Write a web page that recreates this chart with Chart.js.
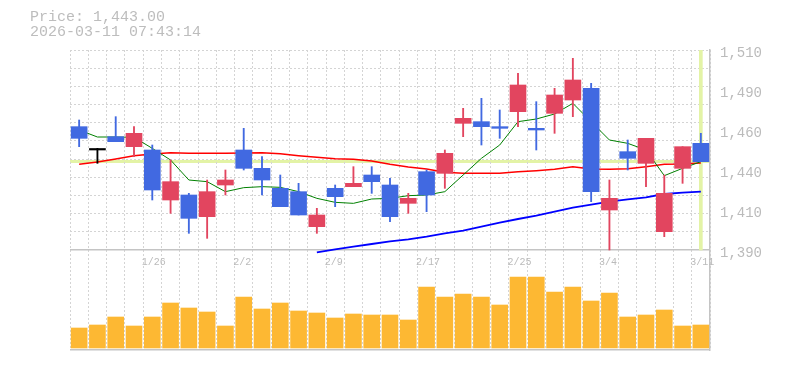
<!DOCTYPE html>
<html><head><meta charset="utf-8">
<script src="https://cdn.jsdelivr.net/npm/chart.js@4/dist/chart.umd.min.js"></script>
<style>
html,body{margin:0;padding:0;background:#fff;}
#wrap{position:relative;width:785px;height:370px;overflow:hidden;}
canvas{position:absolute;left:0;top:0;}
.hdr{position:absolute;left:30px;font-family:"Liberation Mono",monospace;font-size:15px;line-height:18px;color:#bdbdbd;white-space:pre;}
</style></head>
<body><div id="wrap"><canvas id="c" width="785" height="370"></canvas>
<div class="hdr" id="h1" style="top:9px"></div><div class="hdr" id="h2" style="top:24px"></div></div>
<script>
const dates = ["1/20","1/21","1/22","1/23","1/26","1/27","1/28","1/29","1/30","2/2","2/3","2/4","2/5","2/6","2/9","2/10","2/12","2/13","2/16","2/17","2/18","2/19","2/20","2/24","2/25","2/26","2/27","3/2","3/3","3/4","3/5","3/6","3/9","3/10","3/11"];
const tickDates = ["1/26","2/2","2/9","2/17","2/25","3/4","3/11"];
const opens  = [1464,1450,1458,1452,1450,1420,1423,1410,1429,1450,1439,1427,1425,1404,1427,1428,1435,1429,1418,1437,1436,1466,1467,1464,1473,1463,1472,1480,1487,1414,1449,1442,1401,1439,1454];
const highs  = [1468,1451,1470,1464,1453,1444,1424,1432,1438,1463,1446,1435,1430,1415,1429,1440,1440,1433,1424,1438,1450,1475,1481,1474,1496,1479,1487,1505,1490,1432,1456,1457,1435,1452,1460];
const lows   = [1452,1442,1455,1446,1420,1412,1400,1397,1423,1438,1423,1416,1411,1400,1416,1428,1424,1407,1412,1413,1427,1458,1453,1457,1464,1450,1460,1470,1419,1390,1438,1428,1398,1430,1443];
const closes = [1457,1450,1455,1460,1426,1431,1409,1425,1432,1439,1432,1416,1411,1411,1422,1430,1431,1410,1421,1423,1448,1469,1464,1463,1489,1462,1483,1492,1425,1421,1445,1457,1424,1452,1443];
const ma5  = [1462,1457.8,1457.8,1457.6,1451,1444,1432,1431,1425,1427.4,1428,1427.6,1425,1421,1418.6,1418,1420.6,1421,1422.6,1423,1425,1435,1445,1453,1467,1468.6,1471.6,1478,1467,1456,1454,1450,1434.6,1439,1443];
const ma25 = [1441.4,1442.8,1444.6,1446.6,1447.6,1448.4,1448,1448,1448,1448.2,1448.4,1447.7,1446.6,1445.6,1444.8,1444.4,1443.4,1441.4,1439.8,1438.6,1436.6,1436,1436,1436,1437,1437.6,1438.4,1440,1438.6,1438.4,1438.8,1440,1441.4,1441.6,1442.2];
const ma75 = [null,null,null,null,null,null,null,null,null,null,null,null,null,1388.6,1390.4,1392,1393.6,1395.2,1396.4,1398,1400,1401.6,1404,1406.4,1408.6,1410.6,1413,1415.4,1417.2,1419,1420.4,1421.6,1423.6,1424.4,1425];
const volumes = [20,23,31,22,31,45,40,36,22,51,39,45,37,35,30,34,33,33,28,61,51,54,51,43,71,71,56,61,47,55,31,33,38,22,23];
const yTickValues = [1390,1414,1438,1462,1486,1510];
const yTickLabels = ["1,390","1,410","1,440","1,460","1,490","1,510"];
const currentPrice = 1443.00;
const stamp = "2026-03-11 07:43:14";

document.getElementById('h1').textContent = "Price: " + currentPrice.toLocaleString('en-US',{minimumFractionDigits:2,maximumFractionDigits:2});
document.getElementById('h2').textContent = stamp;

const UP = '#e2455f', DOWN = '#4169e1', DOJI = '#000000';
const candleColors = closes.map((c,i) => c > opens[i] ? UP : (c < opens[i] ? DOWN : DOJI));
const lastIdx = dates.length - 1;
const cursorData = dates.map((d,i) => i === lastIdx ? [yTickValues[0], yTickValues[yTickValues.length-1]] : null);
const CURSOR = '#e3f3a6';
const GRID = '#d4d4d4';
const TXT = '#bbbbbb';
const FONT = 'Liberation Mono';

function zeroFit(w,h){ return s => { if(w!==undefined) s.width=w; if(h!==undefined) s.height=h; s.paddingTop=0; s.paddingBottom=0; s.paddingLeft=0; s.paddingRight=0; }; }

new Chart(document.getElementById('c'), {
  type: 'bar',
  data: {
    labels: dates,
    datasets: [
      { type:'bar', label:'body', data: opens.map((o,i)=>[o, closes[i]]), backgroundColor: candleColors, barThickness:16, grouped:false, minBarLength:1.5, yAxisID:'y', xAxisID:'x', order:0 },
      { type:'bar', label:'wick', data: lows.map((l,i)=>[l, highs[i]]), backgroundColor: candleColors, barThickness:1.2, grouped:false, yAxisID:'y', xAxisID:'x', order:1 },
      { type:'line', label:'MA5', data: ma5, borderColor:'#008000', borderWidth:1, pointRadius:0, tension:0, fill:false, yAxisID:'y', xAxisID:'x', order:3 },
      { type:'line', label:'MA25', data: ma25, borderColor:'#ff0000', borderWidth:1.5, pointRadius:0, tension:0, fill:false, yAxisID:'y', xAxisID:'x', order:4 },
      { type:'line', label:'MA75', data: ma75, borderColor:'#0000ff', borderWidth:1.8, pointRadius:0, tension:0, fill:false, yAxisID:'y', xAxisID:'x', order:5 },
      { type:'bar', label:'cursor', data: cursorData, backgroundColor: CURSOR, barThickness:3, grouped:false, yAxisID:'y', xAxisID:'x', order:10 },
      { type:'bar', label:'volume', data: volumes, backgroundColor:'#fdb833', barThickness:16, grouped:false, yAxisID:'yVol', xAxisID:'x', order:2 }
    ]
  },
  options: {
    responsive:false, animation:false, events:[],
    layout:{ padding:{ left:70, top:50, right:0, bottom:20 } },
    plugins:{ legend:{display:false}, tooltip:{enabled:false}, title:{display:false} },
    scales: {
      yCur: { type:'linear', axis:'y', position:'left', min:1330, max:1510,
        afterBuildTicks: s => { s.ticks = [{value: currentPrice}]; },
        afterFit: zeroFit(0),
        ticks:{display:false}, grid:{display:true, color:CURSOR, lineWidth:3, drawTicks:false}, border:{display:false} },
      x: { type:'category', axis:'x', position:'bottom', offset:true,
        grid:{ display:true, offset:true, color:GRID, lineWidth:1, drawTicks:false },
        border:{ display:false, dash:[2,2] },
        ticks:{ display:false },
        afterFit: zeroFit(undefined,0) },
      yGrid: { type:'linear', axis:'y', position:'left', min:-5.5, max:11,
        afterBuildTicks: s => { s.ticks = [1,2,3,4,5,6,7,8,9,10,11].map(v=>({value:v})); },
        afterFit: zeroFit(0),
        ticks:{display:false}, grid:{display:true, color:GRID, lineWidth:1, drawTicks:false}, border:{display:false, dash:[2,2]} },
      y: { type:'linear', axis:'y', position:'right', min:1330, max:1510,
        afterBuildTicks: s => { s.ticks = yTickValues.map(v=>({value:v})); },
        afterFit: zeroFit(75),
        grid:{ display:false, drawTicks:false },
        border:{ display:true, color:'#c4c4c4', width:1.5 },
        ticks:{ padding:10, labelOffset:3, color:TXT, font:{family:FONT, size:14}, callback:(v,i)=>yTickLabels[i] } },
      yVol: { type:'linear', axis:'y', position:'right', min:-2, max:298,
        afterBuildTicks: s => { s.ticks = [{value:-2},{value:98}]; },
        afterFit: zeroFit(0),
        ticks:{display:false}, grid:{display:true, color:'#c4c4c4', lineWidth:1.5, drawTicks:false}, border:{display:false} },
      xLab: { type:'category', axis:'x', position:{ y: 1390 }, offset:true,
        grid:{ display:false, drawTicks:false }, border:{display:false},
        ticks:{ autoSkip:false, maxRotation:0, minRotation:0, align:'start', labelOffset:-10.5, padding:6.5, color:TXT, font:{family:FONT, size:10},
          callback:(v,i)=> tickDates.includes(dates[i]) ? dates[i] : '' } }
    }
  }
});
</script>
</body></html>
